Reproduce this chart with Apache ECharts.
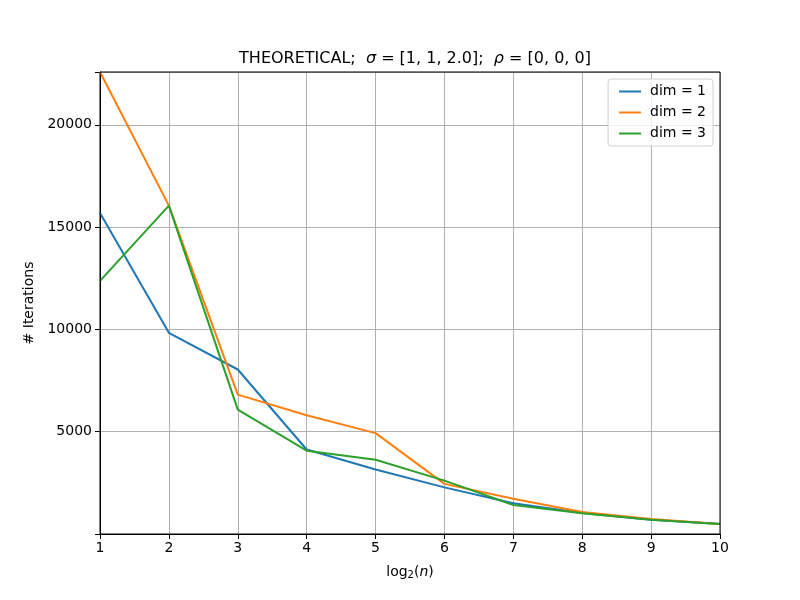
<!DOCTYPE html>
<html>
<head>
<meta charset="utf-8">
<script src="https://cdn.jsdelivr.net/npm/echarts@6/dist/echarts.min.js"></script>
<style>
  html, body { margin: 0; padding: 0; background: #fff; }
  #chart { width: 800px; height: 600px; }
</style>
</head>
<body>
<div id="chart"></div>
<script>
// log2(n)
var xs = [1, 2, 3, 4, 5, 6, 7, 8, 9, 10];
var dim1 = [15690, 9830, 8040, 4130, 3150, 2280, 1500, 1030, 700, 490];
var dim2 = [22580, 16050, 6810, 5800, 4930, 2450, 1720, 1080, 735, 490];
var dim3 = [12370, 16050, 6080, 4070, 3630, 2610, 1420, 1010, 700, 490];
var seriesNames = ['dim = 1', 'dim = 2', 'dim = 3'];
var colors = ['#1f77b4', '#ff7f0e', '#2ca02c'];
var yTicks = [5000, 10000, 15000, 20000];

var font = 'DejaVu Sans';

function pairs(vals) {
  return xs.map(function (x, i) { return [x, vals[i]]; });
}

var chart = echarts.init(document.getElementById('chart'));

var option = {
  animation: false,
  backgroundColor: '#fff',
  textStyle: { fontFamily: font },
  title: {
    text: '{t|THEORETICAL;  }{i|σ}{t| = [1, 1, 2.0];  }{i|ρ}{t| = [0, 0, 0]}',
    left: 410,
    textAlign: 'center',
    top: 46,
    textStyle: {
      fontWeight: 'normal',
      rich: {
        t: { fontFamily: font, fontSize: 16, fontWeight: 'normal', color: '#000' },
        i: { fontFamily: font, fontSize: 16, fontWeight: 'normal', fontStyle: 'italic', color: '#000' }
      }
    }
  },
  legend: {
    orient: 'vertical',
    right: 87,
    top: 79,
    padding: [5, 7, 5, 11],
    itemGap: 6,
    icon: 'rect',
    itemWidth: 22,
    itemHeight: 2,
    backgroundColor: 'rgba(255,255,255,0.8)',
    borderColor: '#d0d0d0',
    borderWidth: 1,
    borderRadius: 3,
    textStyle: { fontFamily: font, fontSize: 14, lineHeight: 15, color: '#000', padding: [0, 0, 0, 4] },
    data: seriesNames
  },
  grid: { left: 100, right: 80, top: 72, bottom: 66 },
  xAxis: {
    type: 'value',
    min: 1,
    max: 10,
    interval: 1,
    name: '{t|log}{s|2}{t|(}{i|n}{t|)}',
    nameLocation: 'middle',
    nameGap: 30,
    nameTextStyle: {
      rich: {
        t: { fontFamily: font, fontSize: 14, color: '#000' },
        s: { fontFamily: font, fontSize: 10, color: '#000', verticalAlign: 'bottom', padding: [6, 0, 0, 0] },
        i: { fontFamily: font, fontSize: 14, fontStyle: 'italic', color: '#000' }
      }
    },
    axisLine: { show: true, lineStyle: { color: '#000', width: 1 } },
    axisTick: { show: true, length: 5, lineStyle: { color: '#000' } },
    axisLabel: { fontFamily: font, fontSize: 14, color: '#000', margin: 7 },
    splitLine: { show: true, lineStyle: { color: '#b0b0b0', width: 1 } }
  },
  yAxis: {
    type: 'value',
    min: 0,
    max: 22580,
    interval: 5000,
    name: '# Iterations',
    nameLocation: 'middle',
    nameGap: 55,
    nameTextStyle: { fontFamily: font, fontSize: 14, color: '#000' },
    axisLine: { show: true, lineStyle: { color: '#000', width: 1 } },
    axisTick: { show: true, length: 5, lineStyle: { color: '#000' } },
    axisLabel: {
      fontFamily: font, fontSize: 14, color: '#000', margin: 8,
      formatter: function (v) { return yTicks.indexOf(v) >= 0 ? String(v) : ''; }
    },
    splitLine: { show: true, lineStyle: { color: '#b0b0b0', width: 1 } }
  },
  series: [dim1, dim2, dim3].map(function (vals, i) {
    return {
      name: seriesNames[i],
      type: 'line',
      data: pairs(vals),
      symbol: 'none',
      color: colors[i],
      lineStyle: { width: 2, color: colors[i] }
    };
  })
};

chart.setOption(option);
// right frame + top frame like matplotlib spines
var r = chart.getModel().getComponent('grid').coordinateSystem.getRect();
chart.setOption({
  graphic: [{
    type: 'rect',
    shape: { x: r.x, y: r.y, width: r.width, height: r.height },
    style: { fill: null, stroke: '#000', lineWidth: 1 },
    silent: true,
    z: 10
  }]
});
</script>
</body>
</html>
